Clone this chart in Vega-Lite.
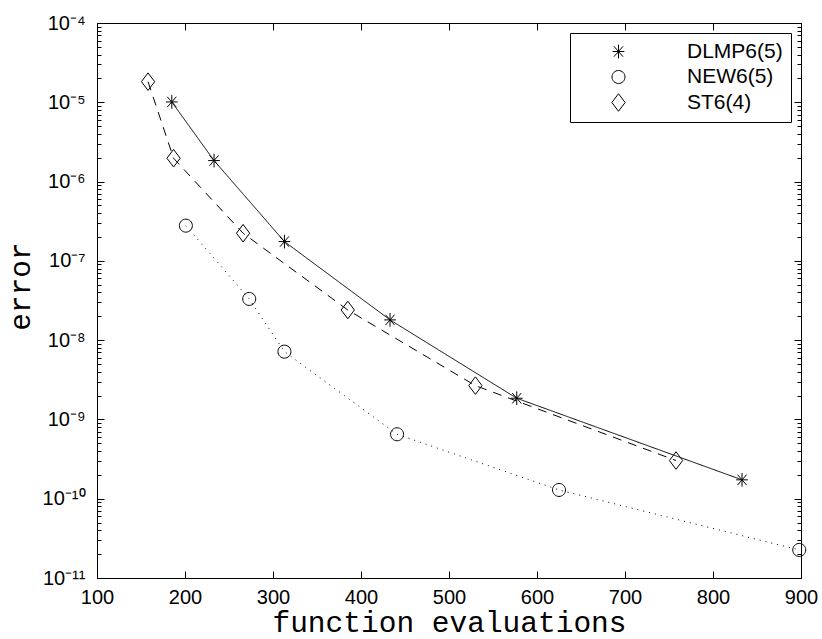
{
  "$schema": "https://vega.github.io/schema/vega-lite/v6.json",
  "width": 704,
  "height": 555,
  "autosize": {"type": "none"},
  "padding": {"left": 97, "top": 23, "right": 21, "bottom": 61},
  "background": "white",
  "config": {"view": {"stroke": null}, "font": "Liberation Sans"},
  "data": {
    "values": [
      {"method": "DLMP6(5)", "evals": 185, "error": 1.01e-5},
      {"method": "DLMP6(5)", "evals": 233, "error": 1.84e-6},
      {"method": "DLMP6(5)", "evals": 313, "error": 1.75e-7},
      {"method": "DLMP6(5)", "evals": 433, "error": 1.8e-8},
      {"method": "DLMP6(5)", "evals": 577, "error": 1.85e-9},
      {"method": "DLMP6(5)", "evals": 833, "error": 1.73e-10},
      {"method": "NEW6(5)", "evals": 201, "error": 2.78e-7},
      {"method": "NEW6(5)", "evals": 273, "error": 3.31e-8},
      {"method": "NEW6(5)", "evals": 313, "error": 7.16e-9},
      {"method": "NEW6(5)", "evals": 441, "error": 6.5e-10},
      {"method": "NEW6(5)", "evals": 625, "error": 1.29e-10},
      {"method": "NEW6(5)", "evals": 898, "error": 2.26e-11},
      {"method": "ST6(4)", "evals": 158, "error": 1.82e-5},
      {"method": "ST6(4)", "evals": 187, "error": 1.97e-6},
      {"method": "ST6(4)", "evals": 266, "error": 2.23e-7},
      {"method": "ST6(4)", "evals": 385, "error": 2.4e-8},
      {"method": "ST6(4)", "evals": 530, "error": 2.67e-9},
      {"method": "ST6(4)", "evals": 758, "error": 3.03e-10}
    ]
  },
  "layer": [
    {
      "mark": {"type": "line", "interpolate": "linear", "color": "black", "strokeWidth": 1},
      "encoding": {
        "x": {
          "field": "evals", "type": "quantitative",
          "scale": {"domain": [100, 900], "nice": false, "zero": false},
          "axis": {
            "orient": "bottom",
            "values": [100, 200, 300, 400, 500, 600, 700, 800, 900],
            "title": "function evaluations",
            "titleFont": "Liberation Mono", "titleFontSize": 29.5, "titleFontWeight": "normal",
            "titleColor": "black", "titleY": 53, "titleBaseline": "alphabetic",
            "labelFont": "Liberation Sans", "labelFontSize": 20, "labelColor": "black",
            "labelPadding": 16, "labelFlush": false, "labelOverlap": false,
            "tickSize": -7, "tickColor": "black", "domainColor": "black", "grid": false
          }
        },
        "y": {
          "field": "error", "type": "quantitative",
          "scale": {"type": "log", "domain": [1e-11, 1e-4], "nice": false},
          "axis": {
            "orient": "left",
            "values": [1e-11,2e-11,3e-11,4e-11,5e-11,6e-11,7e-11,8e-11,9e-11,1e-10,2e-10,3e-10,4e-10,5e-10,6e-10,7e-10,8e-10,9e-10,1e-9,2e-9,3e-9,4e-9,5e-9,6e-9,7e-9,8e-9,9e-9,1e-8,2e-8,3e-8,4e-8,5e-8,6e-8,7e-8,8e-8,9e-8,1e-7,2e-7,3e-7,4e-7,5e-7,6e-7,7e-7,8e-7,9e-7,1e-6,2e-6,3e-6,4e-6,5e-6,6e-6,7e-6,8e-6,9e-6,1e-5,2e-5,3e-5,4e-5,5e-5,6e-5,7e-5,8e-5,9e-5,1e-4],
            "labelExpr": "abs(log(datum.value)/LN10 - round(log(datum.value)/LN10)) < 0.001 ? '10' + ['⁻¹¹','⁻¹⁰','⁻⁹','⁻⁸','⁻⁷','⁻⁶','⁻⁵','⁻⁴'][round(log(datum.value)/LN10) + 11] : ''",
            "title": "error",
            "titleFont": "Liberation Mono", "titleFontSize": 29.5, "titleFontWeight": "normal",
            "titleColor": "black", "titleX": -68, "titleY": 263, "titleAlign": "center",
            "titleBaseline": "alphabetic", "titleAngle": -90,
            "labelFont": "Liberation Sans", "labelFontSize": 20, "labelColor": "black",
            "labelPadding": 19, "labelOverlap": false, "labelFlush": false,
            "tickSize": {"condition": {"test": "abs(log(datum.value)/LN10 - round(log(datum.value)/LN10)) < 0.001", "value": -7}, "value": -4},
            "tickColor": "black", "domainColor": "black", "grid": false
          }
        },
        "strokeDash": {
          "field": "method", "type": "nominal",
          "scale": {"range": [[1, 0], [1, 5], [9, 7]]},
          "legend": null
        }
      }
    },
    {
      "mark": {"type": "point", "filled": false, "color": "black", "strokeWidth": 1, "size": 169, "opacity": 1},
      "encoding": {
        "x": {
          "field": "evals", "type": "quantitative",
          "scale": {"domain": [100, 900], "nice": false, "zero": false},
          "axis": {
            "orient": "top", "values": [100, 200, 300, 400, 500, 600, 700, 800, 900],
            "labels": false, "title": null, "tickSize": -7, "tickColor": "black",
            "domainColor": "black", "grid": false
          }
        },
        "y": {
          "field": "error", "type": "quantitative",
          "scale": {"type": "log", "domain": [1e-11, 1e-4], "nice": false},
          "axis": {
            "orient": "right",
            "values": [1e-11,2e-11,3e-11,4e-11,5e-11,6e-11,7e-11,8e-11,9e-11,1e-10,2e-10,3e-10,4e-10,5e-10,6e-10,7e-10,8e-10,9e-10,1e-9,2e-9,3e-9,4e-9,5e-9,6e-9,7e-9,8e-9,9e-9,1e-8,2e-8,3e-8,4e-8,5e-8,6e-8,7e-8,8e-8,9e-8,1e-7,2e-7,3e-7,4e-7,5e-7,6e-7,7e-7,8e-7,9e-7,1e-6,2e-6,3e-6,4e-6,5e-6,6e-6,7e-6,8e-6,9e-6,1e-5,2e-5,3e-5,4e-5,5e-5,6e-5,7e-5,8e-5,9e-5,1e-4],
            "labels": false, "title": null,
            "tickSize": {"condition": {"test": "abs(log(datum.value)/LN10 - round(log(datum.value)/LN10)) < 0.001", "value": -7}, "value": -4},
            "tickColor": "black", "domainColor": "black", "grid": false
          }
        },
        "shape": {
          "field": "method", "type": "nominal",
          "scale": {
            "domain": ["DLMP6(5)", "NEW6(5)", "ST6(4)"],
            "range": [
              "M-0.9,0H0.9M0,-1.05V1.05M-0.7,-0.8L0.7,0.8M-0.7,0.8L0.7,-0.8",
              "M1,0A1,1,0,1,1,-1,0A1,1,0,1,1,1,0Z",
              "M0,-1.35L1.02,0L0,1.35L-1.02,0Z"
            ]
          },
          "legend": {
            "orient": "top-right", "offset": 10, "title": null,
            "padding": 8, "strokeColor": "black", "fillColor": "white", "cornerRadius": 0,
            "labelFont": "Liberation Sans", "labelFontSize": 21, "labelColor": "black", "labelOffset": 58,
            "symbolSize": 169, "symbolStrokeColor": "black", "symbolFillColor": "transparent",
            "symbolStrokeWidth": 1, "symbolOffset": 30, "rowPadding": 3.5
          }
        }
      }
    }
  ],
  "resolve": {"axis": {"x": "independent", "y": "independent"}}
}
